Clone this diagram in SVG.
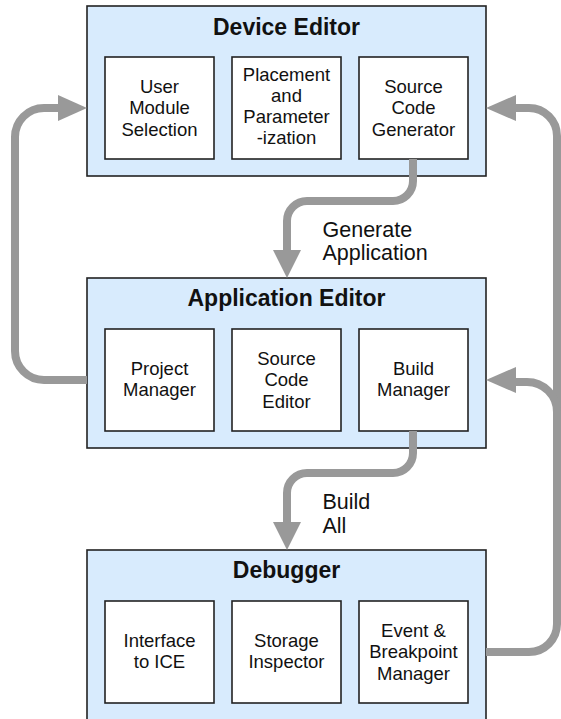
<svg xmlns="http://www.w3.org/2000/svg" width="561" height="719" viewBox="0 0 561 719">
<defs>
<style>
.outer{fill:#d8ebfd;stroke:#222;stroke-width:1.6}
.inner{fill:#fff;stroke:#222;stroke-width:1.6}
.title{font-family:"Liberation Sans",Arial,sans-serif;font-weight:bold;font-size:23px;fill:#111;text-anchor:middle}
.lbl{font-family:"Liberation Sans",Arial,sans-serif;font-size:18.5px;fill:#111;text-anchor:middle}
.conn{fill:none;stroke:#999;stroke-width:8}
.head{fill:#999}
.clbl{font-family:"Liberation Sans",Arial,sans-serif;font-size:21.5px;fill:#111}
</style>
</defs>
<rect width="561" height="719" fill="#fff"/>
<g id="device-editor">
<rect class="outer" x="87" y="6" width="399" height="170"/>
<text class="title" x="286.5" y="34.5">Device Editor</text>
<g id="user-module-selection">
<rect class="inner" x="105" y="57" width="109" height="102"/>
<text class="lbl" x="159.5" y="92.5">User</text>
<text class="lbl" x="159.5" y="114">Module</text>
<text class="lbl" x="159.5" y="135.5">Selection</text>
</g>
<g id="placement">
<rect class="inner" x="232" y="57" width="109" height="102"/>
<text class="lbl" x="286.5" y="81">Placement</text>
<text class="lbl" x="286.5" y="102">and</text>
<text class="lbl" x="286.5" y="123">Parameter</text>
<text class="lbl" x="286.5" y="144">-ization</text>
</g>
<g id="source-code-generator">
<rect class="inner" x="359" y="57" width="109" height="102"/>
<text class="lbl" x="413.5" y="92.5">Source</text>
<text class="lbl" x="413.5" y="114">Code</text>
<text class="lbl" x="413.5" y="135.5">Generator</text>
</g>
</g>
<g id="application-editor">
<rect class="outer" x="87" y="278" width="399" height="170"/>
<text class="title" x="286.5" y="305.5">Application Editor</text>
<g id="project-manager">
<rect class="inner" x="105" y="329" width="109" height="102"/>
<text class="lbl" x="159.5" y="375">Project</text>
<text class="lbl" x="159.5" y="396">Manager</text>
</g>
<g id="source-code-editor">
<rect class="inner" x="232" y="329" width="109" height="102"/>
<text class="lbl" x="286.5" y="364.5">Source</text>
<text class="lbl" x="286.5" y="386">Code</text>
<text class="lbl" x="286.5" y="407.5">Editor</text>
</g>
<g id="build-manager">
<rect class="inner" x="359" y="329" width="109" height="102"/>
<text class="lbl" x="413.5" y="375">Build</text>
<text class="lbl" x="413.5" y="396">Manager</text>
</g>
</g>
<g id="debugger">
<rect class="outer" x="87" y="550" width="399" height="180"/>
<text class="title" x="286.5" y="577.5">Debugger</text>
<g id="interface-to-ice">
<rect class="inner" x="105" y="601" width="109" height="102"/>
<text class="lbl" x="159.5" y="647">Interface</text>
<text class="lbl" x="159.5" y="668">to ICE</text>
</g>
<g id="storage-inspector">
<rect class="inner" x="232" y="601" width="109" height="102"/>
<text class="lbl" x="286.5" y="647">Storage</text>
<text class="lbl" x="286.5" y="668">Inspector</text>
</g>
<g id="event-breakpoint-manager">
<rect class="inner" x="359" y="601" width="109" height="102"/>
<text class="lbl" x="413.5" y="636.5">Event &amp;</text>
<text class="lbl" x="413.5" y="658">Breakpoint</text>
<text class="lbl" x="413.5" y="679.5">Manager</text>
</g>
</g>
<g id="connectors">
<path class="conn" d="M87,380 H44 A29,29 0 0 1 15,351 V137 A29,29 0 0 1 44,108 H60"/>
<polygon class="head" points="87,108 58,95 58,121"/>
<path class="conn" d="M486,652 H529 A28,28 0 0 0 557,624 V136 A28,28 0 0 0 529,108 H514"/>
<polygon class="head" points="486,108 516,95 516,121"/>
<path class="conn" d="M557,412 A30,30 0 0 0 527,382 H514"/>
<polygon class="head" points="486,380 516,367 516,393"/>
<path class="conn" d="M413,159 V181 A20,20 0 0 1 393,201 H307 A20,20 0 0 0 287,221 V252"/>
<polygon class="head" points="287,278 273,250 301,250"/>
<text class="clbl" x="322.5" y="236.5">Generate</text>
<text class="clbl" x="322.5" y="260">Application</text>
<path class="conn" d="M413,431 V453 A20,20 0 0 1 393,473 H307 A20,20 0 0 0 287,493 V524"/>
<polygon class="head" points="287,550 273,522 301,522"/>
<text class="clbl" x="322.5" y="509">Build</text>
<text class="clbl" x="322.5" y="533">All</text>
</g>
</svg>
